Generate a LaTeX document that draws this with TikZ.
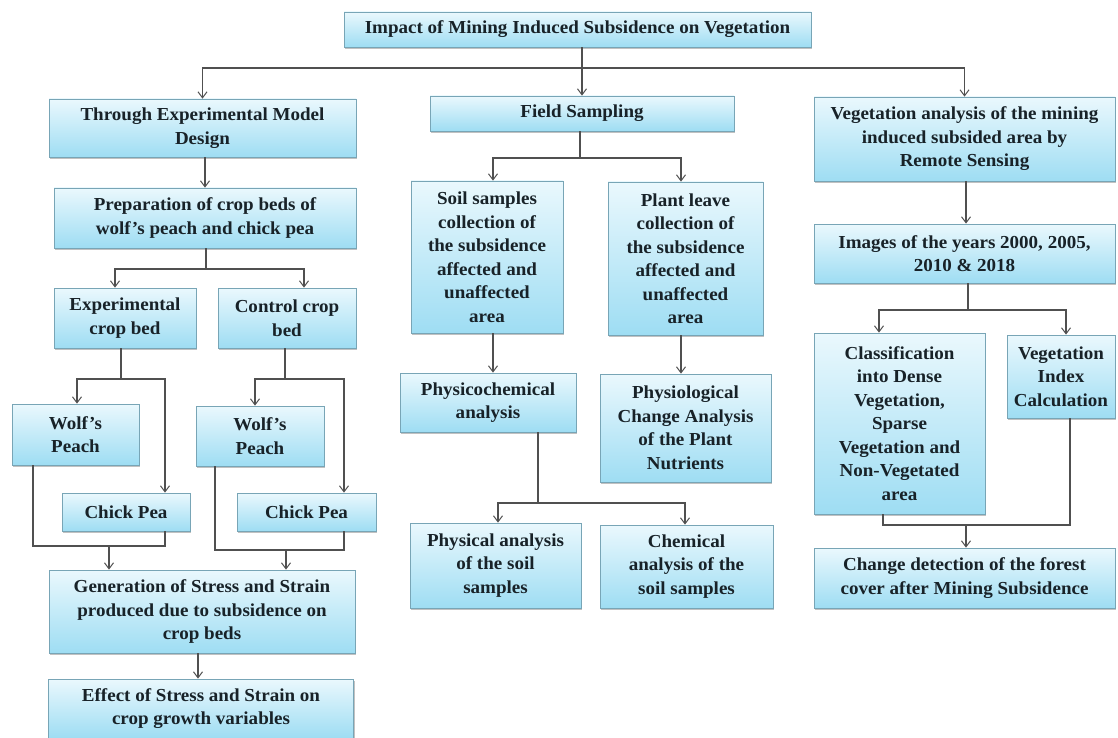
\documentclass[tikz,border=0pt]{standalone}
\usepackage{fontspec}
\setmainfont{Liberation Serif}[FakeStretch=1.04]
\usetikzlibrary{arrows.meta,shadows}
\definecolor{boxtop}{RGB}{234,248,253}
\definecolor{boxbot}{RGB}{158,221,243}
\definecolor{boxline}{RGB}{120,165,182}
\definecolor{lnk}{RGB}{80,80,80}
\definecolor{txt}{RGB}{24,34,40}
\begin{document}
\begin{tikzpicture}[x=1pt,y=-1pt,
  box/.style={draw=boxline, line width=0.8pt, top color=boxtop, bottom color=boxbot,
    drop shadow={shadow xshift=1.2pt, shadow yshift=-2pt, fill=black!40, opacity=0.6},
    align=center, inner sep=2pt, text=txt,
    font=\fontsize{18.3}{23.5}\selectfont\bfseries},
  link/.style={draw=lnk, line width=1.2pt},
  arr/.style={link, -{Straight Barb[length=6pt,width=9pt,line width=1pt]}}]
\fill[white] (0,0) rectangle (1118,738);
\useasboundingbox (0,0) rectangle (1118,738);

% ---- nodes ----
\node[box, minimum width=467pt, minimum height=35pt] (title) at (577.5,29.5) {Impact of Mining Induced Subsidence on Vegetation};

\node[box, minimum width=307pt, minimum height=58pt] (through) at (202.5,128) {Through Experimental Model\\Design};
\node[box, minimum width=302pt, minimum height=60pt] (prep) at (205,218) {Preparation of crop beds of\\wolf’s peach and chick pea};
\node[box, minimum width=142pt, minimum height=60pt] (exp) at (125,318) {Experimental\\crop bed};
\node[box, minimum width=138pt, minimum height=60pt] (ctrl) at (287,318) {Control crop\\bed};
\node[box, minimum width=127pt, minimum height=61pt] (wolfa) at (75.5,434.5) {Wolf’s\\Peach};
\node[box, minimum width=128pt, minimum height=38pt] (chicka) at (126,512) {Chick Pea};
\node[box, minimum width=128pt, minimum height=60pt] (wolfb) at (260,436) {Wolf’s\\Peach};
\node[box, minimum width=139pt, minimum height=38pt] (chickb) at (306.5,512) {Chick Pea};
\node[box, minimum width=306pt, minimum height=83pt] (gen) at (202,611.5) {Generation of Stress and Strain\\produced due to subsidence on\\crop beds};
\node[box, minimum width=305pt, minimum height=59pt] (effect) at (201,708.5) {Effect of Stress and Strain on\\crop growth variables};

\node[box, minimum width=304pt, minimum height=35pt] (field) at (582,113.5) {Field Sampling};
\node[box, minimum width=152pt, minimum height=152pt] (soil) at (487,257) {Soil samples\\collection of\\the subsidence\\affected and\\unaffected\\area};
\node[box, minimum width=155pt, minimum height=153pt] (plant) at (685.5,258.5) {Plant leave\\collection of\\the subsidence\\affected and\\unaffected\\area};
\node[box, minimum width=176pt, minimum height=59pt] (physico) at (488,402.5) {Physicochemical\\analysis};
\node[box, minimum width=171pt, minimum height=108pt] (physio) at (685.5,428) {Physiological\\Change Analysis\\of the Plant\\Nutrients};
\node[box, minimum width=171pt, minimum height=85pt] (physical) at (495.5,565.5) {Physical analysis\\of the soil\\samples};
\node[box, minimum width=173pt, minimum height=83pt] (chemical) at (686.5,566.5) {Chemical\\analysis of the\\soil samples};

\node[box, minimum width=301pt, minimum height=84pt] (veg) at (964.5,139) {Vegetation analysis of the mining\\induced subsided area by\\Remote Sensing};
\node[box, minimum width=301pt, minimum height=59pt] (images) at (964.5,253.5) {Images of the years 2000, 2005,\\2010 \& 2018};
\node[box, minimum width=171pt, minimum height=181pt] (class) at (899.5,423.5) {Classification\\into Dense\\Vegetation,\\Sparse\\Vegetation and\\Non-Vegetated\\area};
\node[box, minimum width=108pt, minimum height=83pt] (vi) at (1061,376.5) {Vegetation\\Index\\Calculation};
\node[box, minimum width=301pt, minimum height=60pt] (change) at (964.5,578) {Change detection of the forest\\cover after Mining Subsidence};

% ---- junction coordinates ----
\coordinate (j1) at (582,68);
\coordinate (j2) at (206,269);
\coordinate (j3) at (121,379);
\coordinate (j4) at (285,379);
\coordinate (j5) at (109,546);
\coordinate (j6) at (286,550);
\coordinate (j7) at (580,158);
\coordinate (j8) at (538,503);
\coordinate (j9) at (968,310);
\coordinate (j10) at (966,525);

% ---- connectors ----
\draw[link] (title.south -| j1) -- (j1);
\draw[arr] (j1) -| (through.north);
\draw[arr] (j1) -- (j1 |- field.north);
\draw[arr] (j1) -| (veg.north);

\draw[arr] (through.south -| prep.north) -- (prep.north);
\draw[link] (prep.south -| j2) -- (j2);
\draw[arr] (j2) -| ([xshift=-10pt]exp.north);
\draw[arr] (j2) -| ([xshift=17pt]ctrl.north);

\draw[link] (exp.south -| j3) -- (j3);
\draw[arr] (j3) -| ([xshift=1.5pt]wolfa.north);
\draw[arr] (j3) -| ([xshift=39pt]chicka.north);
\draw[link] (ctrl.south -| j4) -- (j4);
\draw[arr] (j4) -| ([xshift=-5pt]wolfb.north);
\draw[arr] (j4) -| ([xshift=37.5pt]chickb.north);

\draw[link] ([xshift=-42.5pt]wolfa.south) |- (j5) -| ([xshift=39pt]chicka.south);
\draw[arr] (j5) -- (j5 |- gen.north);
\draw[link] ([xshift=-45pt]wolfb.south) |- (j6) -| ([xshift=37.5pt]chickb.south);
\draw[arr] (j6) -- (j6 |- gen.north);

\draw[arr] ([xshift=-4pt]gen.south) -- ([xshift=-4pt]gen.south |- effect.north);

\draw[link] (field.south -| j7) -- (j7);
\draw[arr] (j7) -| ([xshift=6pt]soil.north);
\draw[arr] (j7) -| ([xshift=-4.5pt]plant.north);
\draw[arr] ([xshift=6pt]soil.south) -- ([xshift=6pt]soil.south |- physico.north);
\draw[arr] ([xshift=-4.5pt]plant.south) -- ([xshift=-4.5pt]plant.south |- physio.north);

\draw[link] (physico.south -| j8) -- (j8);
\draw[arr] (j8) -| ([xshift=2.5pt]physical.north);
\draw[arr] (j8) -| ([xshift=-1.5pt]chemical.north);

\draw[arr] ([xshift=1.5pt]veg.south) -- ([xshift=1.5pt]images.north);
\draw[link] (images.south -| j9) -- (j9);
\draw[arr] (j9) -| ([xshift=-20.5pt]class.north);
\draw[arr] (j9) -| ([xshift=5pt]vi.north);

\draw[link] ([xshift=-16.5pt]class.south) |- (j10) -| ([xshift=9pt]vi.south);
\draw[arr] (j10) -- (j10 |- change.north);
\end{tikzpicture}
\end{document}
